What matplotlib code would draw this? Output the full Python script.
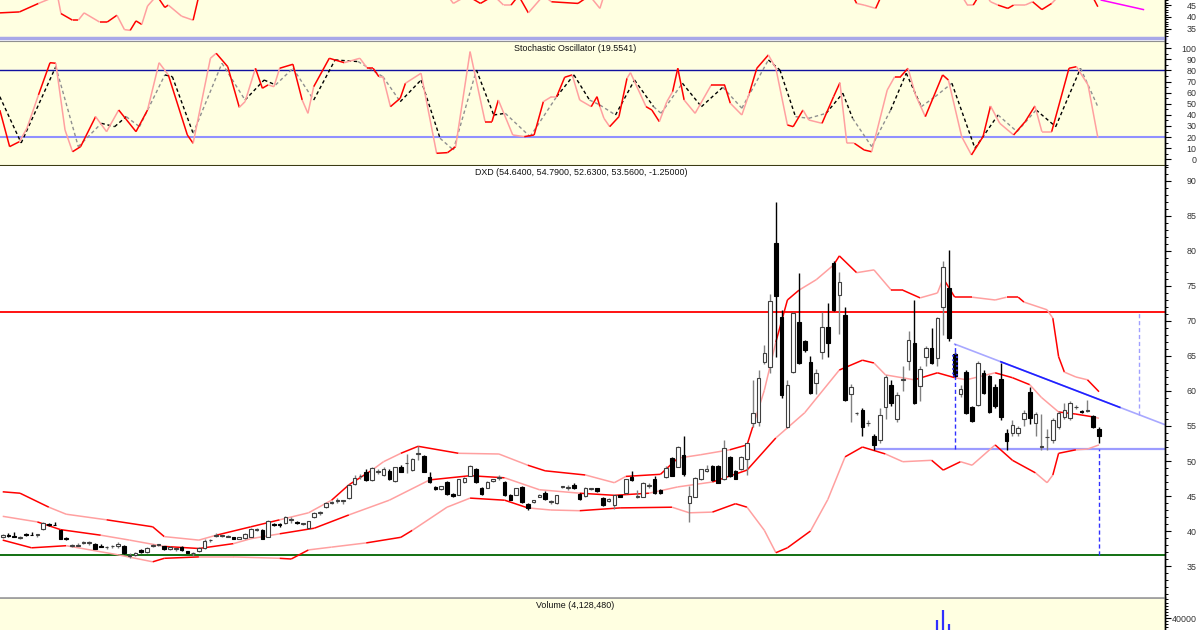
import numpy as np
import matplotlib
matplotlib.use("Agg")
import matplotlib.pyplot as plt
from matplotlib.collections import LineCollection
from matplotlib.lines import Line2D
from matplotlib.ticker import MultipleLocator, FixedLocator, StrMethodFormatter

plt.rcParams["font.family"] = ["Liberation Sans", "DejaVu Sans"]

# ---- DXD daily bars ----
opens = [39.2, 39.5, 39.3, 39.0, 39.6, 39.5, 39.5, 40.3, 41.0, 40.9,
         40.1, 39.0, 37.9, 37.9, 38.3, 38.3, 38.1, 37.8, 37.7, 37.8,
         37.9, 37.9, 36.4, 36.6, 37.3, 37.0, 37.8, 38.0, 37.8, 37.4,
         37.5, 37.7, 37.1, 36.8, 37.1, 37.6, 38.7, 39.3, 39.3, 39.2,
         39.1, 38.9, 39.0, 39.2, 40.2, 40.1, 39.2, 41.0, 41.0, 41.1,
         41.6, 41.3, 41.0, 40.4, 42.0, 42.6, 43.4, 44.0, 44.3, 44.3,
         44.7, 46.7, 47.8, 48.5, 47.3, 48.5, 48.0, 48.6, 47.1, 49.1,
         49.7, 48.7, 51.0, 50.7, 47.7, 46.3, 46.0, 47.0, 45.3, 45.2,
         47.0, 47.9, 48.9, 46.2, 46.2, 47.1, 47.6, 47.0, 45.2, 45.2,
         46.3, 43.9, 44.2, 44.9, 45.5, 44.1, 44.0, 46.3, 46.2, 46.6,
         45.3, 45.0, 46.0, 46.1, 44.7, 44.3, 43.7, 45.1, 45.4, 47.7,
         44.8, 44.9, 46.5, 47.5, 45.9, 47.7, 50.5, 49.2, 50.9, 44.0,
         44.9, 47.4, 48.6, 49.3, 49.3, 47.4, 50.6, 48.6, 48.8, 50.3,
         55.4, 55.6, 64.1, 63.4, 81.1, 70.6, 54.9, 62.7, 69.9, 67.1,
         64.1, 61.1, 65.5, 69.1, 78.3, 73.7, 70.9, 59.6, 56.8, 57.3,
         55.4, 53.5, 53.0, 57.7, 60.9, 56.0, 61.5, 64.3, 66.9, 60.7,
         64.9, 66.1, 64.7, 72.0, 74.7, 65.3, 59.6, 62.7, 57.7, 58.0,
         62.6, 62.1, 60.6, 61.7, 54.0, 54.0, 54.0, 56.0, 59.9, 55.4,
         52.0, 53.4, 53.0, 54.9, 56.3, 56.1, 57.7, 57.2, 57.1, 56.4,
         54.64]
highs = [39.6, 39.7, 39.8, 39.3, 39.7, 39.9, 39.6, 41.3, 41.2, 41.3,
         40.2, 39.1, 38.1, 38.3, 38.6, 38.6, 38.3, 38.1, 37.9, 38.0,
         38.5, 38.0, 36.8, 37.0, 37.4, 37.7, 38.1, 38.2, 37.9, 37.8,
         37.6, 37.8, 37.2, 37.0, 37.7, 38.8, 38.9, 39.7, 39.5, 39.5,
         39.2, 39.2, 39.7, 40.5, 40.4, 40.3, 41.6, 41.1, 41.2, 42.1,
         42.0, 41.4, 41.2, 41.5, 42.7, 42.8, 44.1, 44.3, 44.7, 44.4,
         46.7, 48.0, 48.1, 48.8, 49.1, 48.9, 49.2, 48.8, 49.2, 49.5,
         51.0, 50.4, 52.1, 50.8, 48.5, 46.4, 46.5, 47.1, 45.4, 47.5,
         47.7, 49.4, 49.0, 46.3, 47.1, 47.5, 48.0, 47.1, 45.3, 46.2,
         46.4, 44.0, 44.5, 45.3, 45.7, 44.4, 45.2, 46.4, 46.6, 46.9,
         45.4, 46.3, 46.2, 46.2, 44.8, 44.7, 45.2, 45.2, 47.5, 48.6,
         45.8, 47.0, 46.9, 47.8, 46.0, 49.3, 50.6, 52.2, 53.6, 46.5,
         47.7, 48.9, 49.4, 49.4, 49.4, 53.0, 50.7, 48.7, 50.7, 52.6,
         61.5, 63.0, 66.5, 73.9, 87.0, 71.5, 61.5, 71.3, 76.9, 67.3,
         65.0, 63.2, 71.3, 72.5, 78.5, 77.0, 72.0, 61.0, 57.0, 57.5,
         55.8, 53.8, 57.5, 62.3, 61.5, 59.8, 63.5, 68.5, 73.0, 63.6,
         66.4, 69.0, 70.6, 78.6, 80.1, 65.5, 60.9, 63.0, 57.9, 64.3,
         63.0, 62.3, 61.0, 64.0, 54.5, 55.9, 55.0, 57.3, 60.5, 57.0,
         56.7, 54.5, 56.1, 57.2, 58.3, 58.5, 58.0, 57.3, 58.7, 56.6,
         54.79]
lows = [39.0, 39.2, 39.2, 38.8, 39.3, 39.4, 39.1, 40.2, 40.7, 40.8,
        38.9, 38.7, 37.7, 37.9, 38.2, 38.0, 37.4, 37.7, 37.5, 37.6,
        37.6, 36.7, 36.1, 36.4, 36.9, 36.9, 37.7, 37.8, 37.3, 37.3,
        37.1, 37.2, 36.8, 36.5, 37.0, 37.5, 38.5, 39.2, 39.1, 39.2,
        38.8, 38.8, 38.9, 39.1, 40.0, 38.8, 39.1, 40.7, 40.6, 41.0,
        41.2, 41.0, 40.8, 40.3, 41.9, 42.3, 43.3, 43.8, 44.0, 43.9,
        44.6, 46.6, 47.5, 47.2, 47.2, 48.2, 47.9, 47.3, 47.0, 48.4,
        48.3, 48.6, 50.2, 48.4, 46.9, 45.9, 45.9, 45.2, 44.8, 45.1,
        46.9, 47.8, 46.9, 45.2, 46.1, 47.0, 47.3, 45.0, 44.4, 45.1,
        44.0, 43.0, 44.0, 44.8, 44.5, 43.9, 43.9, 46.2, 45.9, 46.0,
        44.4, 44.9, 45.8, 45.6, 43.6, 44.2, 43.1, 44.8, 45.3, 47.2,
        44.7, 44.8, 46.2, 45.3, 45.3, 47.6, 47.8, 49.1, 47.8, 41.3,
        44.8, 47.3, 48.5, 47.2, 46.8, 47.3, 47.7, 47.4, 48.7, 48.0,
        54.8, 55.0, 63.8, 62.5, 64.9, 59.0, 54.7, 62.5, 63.8, 65.5,
        59.5, 59.5, 64.5, 64.8, 71.4, 68.1, 58.5, 55.5, 56.6, 53.5,
        55.0, 51.6, 52.5, 56.0, 57.8, 55.5, 60.0, 63.0, 58.1, 58.5,
        63.5, 63.8, 63.5, 68.0, 67.2, 62.0, 59.1, 56.7, 55.5, 57.8,
        59.5, 56.8, 57.5, 55.8, 51.6, 53.6, 53.5, 55.0, 55.3, 53.5,
        51.6, 51.6, 52.6, 54.5, 56.0, 55.8, 57.4, 56.9, 57.0, 54.7,
        52.63]
closes = [39.4, 39.3, 39.2, 39.2, 39.4, 39.4, 39.5, 41.1, 40.9, 40.8,
          38.9, 38.8, 37.9, 38.0, 38.5, 38.3, 37.5, 37.7, 37.7, 37.8,
          38.2, 36.8, 36.6, 36.9, 37.0, 37.6, 38.0, 38.0, 37.4, 37.7,
          37.5, 37.3, 36.9, 36.8, 37.6, 38.6, 38.7, 39.5, 39.3, 39.2,
          38.9, 39.1, 39.6, 40.3, 40.2, 38.9, 41.4, 40.8, 40.8, 42.0,
          41.6, 41.1, 41.0, 41.4, 42.6, 42.6, 44.0, 44.0, 44.3, 44.3,
          46.6, 47.6, 47.8, 47.3, 49.0, 48.5, 48.8, 47.4, 49.1, 48.5,
          49.7, 50.3, 51.2, 48.5, 47.0, 46.0, 46.4, 45.3, 45.0, 47.4,
          47.6, 49.3, 47.0, 45.3, 47.0, 47.4, 47.6, 45.1, 44.5, 46.1,
          44.1, 43.3, 44.4, 45.1, 44.6, 44.3, 45.1, 46.3, 46.2, 46.1,
          44.6, 46.2, 46.0, 45.7, 43.7, 44.6, 45.1, 44.9, 47.4, 47.3,
          45.0, 46.9, 46.5, 45.4, 45.4, 49.0, 47.9, 52.0, 48.2, 45.0,
          47.6, 48.8, 48.8, 47.3, 46.9, 51.9, 47.8, 47.5, 50.6, 52.5,
          56.9, 61.9, 65.4, 72.9, 73.6, 59.4, 60.9, 71.1, 64.0, 65.9,
          59.7, 62.6, 69.1, 66.9, 71.6, 75.6, 58.7, 60.6, 56.8, 54.9,
          55.4, 52.3, 56.6, 62.0, 58.3, 59.4, 61.7, 67.3, 58.3, 63.1,
          66.1, 64.0, 70.4, 77.7, 67.6, 62.1, 60.3, 56.9, 55.7, 64.0,
          59.7, 57.0, 57.9, 56.3, 52.9, 55.1, 54.7, 56.9, 56.1, 56.7,
          52.0, 53.4, 55.9, 56.9, 57.3, 58.3, 57.7, 57.0, 57.3, 54.9,
          53.56]

# Bollinger bands (bar index, value)
upper_idx = [0, 3, 8, 11, 18, 26, 28, 34, 37, 43, 48, 53, 57, 60, 64, 66, 69, 72, 79, 86,
             91, 94, 101, 106, 108, 114, 117, 121, 126, 129, 130, 132, 134, 136, 138, 141,
             144, 145, 148, 151, 154, 156, 159, 162, 163, 165, 168, 172, 174, 176, 177,
             181, 182, 183, 184, 186, 188, 190]
upper = [45.6, 45.4, 43.4, 42.4, 41.6, 40.6, 39.2, 38.7, 39.4, 40.6, 41.6, 42.6, 44.4, 46.6,
         48.7, 49.9, 51.1, 52.1, 51.1, 51.0, 49.4, 48.6, 48.0, 46.9, 47.8, 48.1, 50.4, 50.9,
         51.6, 52.3, 54.9, 60.1, 67.0, 73.0, 74.4, 75.9, 78.0, 79.3, 76.9, 77.3, 74.4, 74.4,
         73.3, 74.0, 76.1, 73.4, 73.4, 73.0, 73.4, 73.4, 72.7, 71.6, 70.4, 64.9, 62.7, 62.0,
         61.6, 59.9]
middle_idx = [0, 3, 6, 10, 17, 22, 28, 34, 40, 43, 48, 54, 60, 67, 74, 81, 87, 93, 100, 106,
              112, 117, 123, 129, 134, 139, 145, 149, 151, 153, 158, 162, 165, 167, 172, 175,
              178, 180, 183, 186, 189, 190]
middle = [42.1, 41.7, 41.3, 40.2, 39.4, 38.7, 37.8, 37.5, 38.2, 38.9, 39.6, 40.4, 42.3, 44.4,
          47.3, 47.9, 47.6, 45.9, 45.4, 45.1, 45.4, 46.3, 47.0, 48.7, 53.3, 56.9, 63.0, 64.4,
          64.0, 62.3, 61.6, 62.6, 61.9, 61.6, 62.6, 61.9, 60.9, 59.1, 57.0, 56.7, 56.3, 56.1]
lower_idx = [0, 5, 11, 20, 26, 28, 34, 40, 48, 50, 53, 57, 63, 69, 71, 77, 81, 87, 91, 95,
             100, 107, 116, 119, 123, 127, 129, 132, 134, 136, 140, 143, 146, 149, 153, 156,
             161, 163, 166, 168, 172, 175, 179, 181, 182, 183, 186, 188, 190]
lower = [38.7, 37.6, 37.9, 36.6, 35.6, 36.1, 36.3, 36.3, 36.1, 36.0, 37.3, 37.7, 38.3, 39.1,
         40.1, 43.4, 44.7, 44.4, 43.3, 43.0, 42.9, 43.3, 43.4, 42.6, 42.7, 43.9, 43.4, 40.1,
         36.9, 37.6, 40.0, 44.5, 50.6, 52.0, 51.0, 49.9, 50.1, 48.7, 49.9, 49.4, 52.3, 50.1,
         48.3, 46.9, 48.0, 51.1, 51.6, 51.7, 52.3]

# Stochastic oscillator turning points (bar position, value)
k_pos = [-0.5, 1.2, 2.9, 4.2, 6.2, 8.2, 9.2, 10.8, 12.1, 13.5, 16.1, 18.0, 20.1, 23.1, 25.1,
         27.1, 28.7, 32.0, 33.0, 36.0, 37.0, 39.0, 41.0, 42.0, 43.8, 45.0, 46.0, 47.0, 48.0,
         50.3, 51.9, 52.9, 53.9, 56.6, 59.2, 61.9, 63.2, 64.2, 65.2, 65.9, 67.2, 68.9, 69.8,
         72.5, 75.2, 77.1, 78.5, 81.0, 83.6, 84.8, 85.9, 88.4, 90.4, 92.1, 93.7, 95.1, 96.0,
         97.4, 98.7, 100.0, 102.0, 103.0, 103.5, 104.2, 105.2, 106.8, 108.2, 108.8, 111.5,
         112.5, 113.8, 115.1, 116.1, 117.0, 118.1, 120.0, 122.8, 125.1, 126.1, 128.1, 129.4,
         130.7, 132.7, 134.0, 136.0, 137.0, 138.7, 139.7, 142.0, 144.0, 145.1, 146.3, 147.6,
         149.3, 150.6, 153.3, 154.6, 155.6, 156.9, 158.2, 159.9, 162.9, 163.9, 166.2, 167.9,
         169.9, 171.2, 172.8, 175.2, 177.2, 178.9, 180.1, 181.8, 184.8, 186.1, 188.1, 189.8]
k_vals = [44.3, 11.4, 15.9, 28, 58, 87, 86.5, 26.4, 6.8, 11.4, 38.4, 24.9, 44.4, 24.9, 44.4,
          87, 76, 21.9, 14.4, 91, 95.5, 83.4, 46.8, 51.9, 82, 64, 67, 65.4, 82,
          85.6, 53.4, 41.4, 65.4, 91, 87, 91, 82, 82, 74.4, 74.4, 47.4, 55, 68.5,
          77.5, 5.4, 6, 11.4, 97, 33.9, 33.9, 53.4, 21.9, 20.4, 21.9, 51.9, 56.4, 56.4,
          73.9, 76, 53.4, 47.4, 56.4, 47.4, 36.9, 29.4, 38.4, 73, 78, 47.4,
          44.4, 33.9, 51.9, 60.9, 82, 53.4, 41.4, 67, 67, 50.5, 39.9, 59.5,
          82, 94, 82, 30.9, 29.4, 44.4, 35.4, 32.4, 56.4, 69, 14.4, 14.4,
          8.4, 6.8, 62.4, 74.4, 74.4, 82, 58, 38.4, 76, 71.4, 20.4, 3.9,
          20.4, 48, 32.4, 21.9, 33.9, 48, 24.9, 24.9, 82, 83.4, 67, 19.6]
d_pos = [-0.5, 3.2, 9.2, 13.1, 17.1, 19.4, 21.4, 23.7, 28.1, 29.4, 33.0, 38.0, 42.0, 45.3,
         47.3, 50.3, 53.9, 57.6, 61.6, 65.9, 68.9, 72.5, 75.8, 78.1, 82.1, 85.1, 87.1, 91.4,
         96.0, 99.0, 101.7, 103.5, 106.2, 109.5, 112.8, 114.1, 117.8, 121.1, 124.8, 128.1,
         132.7, 134.7, 137.4, 139.7, 142.7, 145.6, 147.3, 150.6, 153.9, 156.6, 159.2, 161.6,
         164.5, 168.5, 172.5, 175.8, 179.1, 182.5, 186.8, 189.8]
d_vals = [56.4, 14.7, 83.4, 11.4, 32.4, 29.4, 38.4, 29.4, 76, 74.4, 23.4, 86.5, 53.4, 71.4,
          67, 82, 53.4, 89.5, 88, 74.4, 51.9, 71.4, 18.9, 8.4, 80.4, 39.9, 41.4, 20.4,
          56.4, 76, 53.4, 48.9, 39.9, 71.4, 47.4, 41.4, 68.5, 47.4, 64.9, 46,
          89.5, 80.4, 38.4, 36.9, 41.4, 59.5, 36.9, 11.4, 44.4, 77.5, 47.4, 56.4,
          68.5, 9.9, 39.9, 24.9, 44.4, 29.4, 82, 47.4]

# top panel indicator (mostly above the visible window)
top_pos = [-0.5, 2.9, 6.2, 9.5, 10.1, 12.1, 13.1, 14.1, 16.8, 18.1, 19.8, 21.1, 22.1, 23.1,
           24.1, 25.1, 26.7, 28.1, 28.7, 31.0, 33.0, 34.0, 77.1, 78.1, 80.5, 82.8, 85.1,
           86.8, 88.1, 89.4, 91.1, 93.7, 95.1, 99.7, 101.7, 103.5, 104.2, 147.3, 148.0,
           149.3, 151.3, 152.3, 166.2, 167.2, 168.2, 169.2, 170.5, 171.2, 172.5, 174.2,
           175.2, 177.2, 178.5, 180.1, 181.8, 183.1, 188.8, 189.8]
top_vals = [41.7, 42.1, 45.7, 49, 41.4, 38.6, 38.6, 41.7, 37.8, 37.8, 40.7, 34.6, 34.3, 38.3,
            36.8, 44.6, 49, 44.0, 45.0, 40.3, 38.6, 49, 49, 45.7, 49, 45.7, 49,
            45.0, 45.0, 49, 41.7, 49, 46.4, 45.7, 49, 43.6, 49, 49, 45.7,
            45.0, 43.6, 49, 49, 45, 45, 49, 49, 46.4, 45, 43.6,
            45, 45, 46.4, 43.1, 45.7, 49, 49, 44.3]
top_proj_pos = [190.4, 197.7]
top_proj_vals = [47.1, 43.1]

# volume (only the tallest bars reach the visible strip)
vol_idx = [162, 163, 164]
vol_vals = [39350, 42600, 38050]

# drawn levels
resistance = 71.3
floor_level = 36.6
support = 51.7
support_start = 151
tri_x = [165, 201.4]
tri_y = [66.7, 55.2]
target_bar = 190
proj_bar = 197

# ---------------------------------------------------------------
W, H = 1200, 630
AX_RIGHT = 1165
fig = plt.figure(figsize=(W / 100, H / 100), dpi=100, facecolor="white")


def panel(top, bottom):
    return fig.add_axes([0, 1 - bottom / H, AX_RIGHT / W, (bottom - top) / H])


ax_top = panel(0, 37.5)
ax_sto = panel(40.5, 165.5)
ax_px = panel(166, 598)
ax_vol = panel(599, 660)

YELLOW = "#FFFFE1"
XLIM = (-0.47, 201.44)


def style(ax, bg, ylim, major=None, minor=None, fixed=None):
    ax.set_facecolor(bg)
    ax.set_xlim(*XLIM)
    ax.set_ylim(*ylim)
    ax.set_xticks([])
    ax.yaxis.tick_right()
    if fixed is not None:
        ax.yaxis.set_major_locator(FixedLocator(fixed))
    else:
        ax.yaxis.set_major_locator(MultipleLocator(major))
    ax.yaxis.set_minor_locator(MultipleLocator(minor))
    ax.yaxis.set_major_formatter(StrMethodFormatter("{x:.0f}"))
    ax.tick_params(axis="y", which="major", direction="out", length=4.3, width=0.8,
                   pad=18.5, labelsize=6.4, labelcolor="#333333")
    ax.tick_params(axis="y", which="minor", direction="out", length=2, width=0.7)
    for s in ["left", "top", "bottom"]:
        ax.spines[s].set_visible(False)
    ax.spines["right"].set_color("black")
    ax.spines["right"].set_linewidth(1)
    plt.setp(ax.get_yticklabels(), ha="right")


style(ax_top, YELLOW, (31.27, 47.15), 5, 1)
style(ax_sto, YELLOW, (-5.6, 107.0), 10, 5)
style(ax_px, "white", (30.43, 92.14), 5, 1)
style(ax_vol, YELLOW, (26450, 46130), minor=1000, fixed=[40000])

ax_top.spines["bottom"].set_visible(True)
ax_top.spines["bottom"].set_color("#A8A8E8")
ax_top.spines["bottom"].set_linewidth(2.5)
ax_sto.spines["top"].set_visible(True)
ax_sto.spines["top"].set_color("#909090")
ax_sto.spines["bottom"].set_visible(True)
ax_sto.spines["bottom"].set_color("#3C3C14")
ax_sto.spines["bottom"].set_linewidth(1.5)
ax_px.spines["bottom"].set_visible(True)
ax_px.spines["bottom"].set_color("#A0A0A0")
ax_px.spines["bottom"].set_linewidth(2)

RED, PINK = "#FF0000", "#FFA0A0"


def two_tone(ax, xs, ys, colors, **kw):
    pts = np.column_stack([xs, ys])
    segs = np.stack([pts[:-1], pts[1:]], axis=1)
    cols = [colors[(i // 2) % len(colors)] for i in range(len(segs))]
    ax.add_collection(LineCollection(segs, colors=cols, **kw))


# ---- top indicator ----
two_tone(ax_top, top_pos, top_vals, [RED, PINK], lw=1.1)
ax_top.plot(top_proj_pos, top_proj_vals, color="#FF00FF", lw=1.1)

# ---- stochastic ----
ax_sto.axhline(80, color="#1010A0", lw=1)
ax_sto.axhline(20, color="#9090FF", lw=1.5)
two_tone(ax_sto, d_pos, d_vals, ["black", "#909090"], lw=1, linestyles=[(0, (2.5, 2))])
two_tone(ax_sto, k_pos, k_vals, [RED, PINK], lw=1.1)
ax_sto.text(0.4936, 0.937, "Stochastic Oscillator (19.5541)", transform=ax_sto.transAxes,
            ha="center", va="center", fontsize=6.4, color="#111111")

# ---- price ----
ax_px.axhline(resistance, color="#FF0000", lw=1.3, zorder=1)
ax_px.axhline(floor_level, color="#006400", lw=1.3, zorder=1)
ax_px.hlines(support, support_start, XLIM[1], color="#9C9CFF", lw=1.6, zorder=1)

two_tone(ax_px, upper_idx, upper, [RED, PINK], lw=1.1, zorder=2)
two_tone(ax_px, middle_idx, middle, [PINK, RED], lw=1.1, zorder=2)
two_tone(ax_px, lower_idx, lower, [RED, PINK], lw=1.1, zorder=2)

x = np.arange(len(closes))
o, h, l, c = (np.array(v) for v in (opens, highs, lows, closes))
up = c >= o
body_lo = np.minimum(o, c)
body_h = np.maximum(np.abs(c - o), 0.08)
ax_px.vlines(x[up], l[up], h[up], color="#808080", lw=1, zorder=3)
ax_px.vlines(x[~up], l[~up], h[~up], color="black", lw=1, zorder=3)
ax_px.bar(x[up], body_h[up], 0.62, bottom=body_lo[up], facecolor="white",
          edgecolor="#404040", lw=0.8, zorder=4)
ax_px.bar(x[~up], body_h[~up], 0.62, bottom=body_lo[~up], facecolor="black",
          edgecolor="black", lw=0.8, zorder=4)
hl = 165
ax_px.bar(hl, body_h[hl], 0.62, bottom=body_lo[hl], facecolor="black",
          edgecolor="#3030FF", lw=1.2, ls=":", zorder=5)

# falling resistance line (light ends, dark middle)
ax_px.plot(tri_x, tri_y, color="#A8A8FF", lw=1.2, zorder=2)
mid_x = np.array([173, 193.6])
ax_px.plot(mid_x, np.interp(mid_x, tri_x, tri_y), color="#2020FF", lw=1.2, zorder=2)

dash = (0, (3, 2))
ax_px.vlines(tri_x[0], support, tri_y[0], color="#3030FF", lw=1, ls=dash, zorder=2)
ax_px.vlines(target_bar, floor_level, support, color="#3030FF", lw=1, ls=dash, zorder=2)
ax_px.vlines(proj_bar, np.interp(proj_bar, tri_x, tri_y), resistance, color="#A0A0FF",
             lw=1, ls=dash, zorder=2)

ax_px.text(0.4987, 0.985, "DXD (54.6400, 54.7900, 52.6300, 53.5600, -1.25000)",
           transform=ax_px.transAxes, ha="center", va="center", fontsize=6.4, color="#111111")

# ---- volume ----
ax_vol.vlines(vol_idx, 0, vol_vals, color="#3030FF", lw=1.6)
ax_vol.text(0.4936, 0.9, "Volume (4,128,480)", transform=ax_vol.transAxes,
            ha="center", va="center", fontsize=6.4, color="#111111")

fig.add_artist(Line2D([AX_RIGHT / W] * 2, [0, 1], color="black", lw=1))

fig.savefig("out.png", dpi=100, facecolor="white")
